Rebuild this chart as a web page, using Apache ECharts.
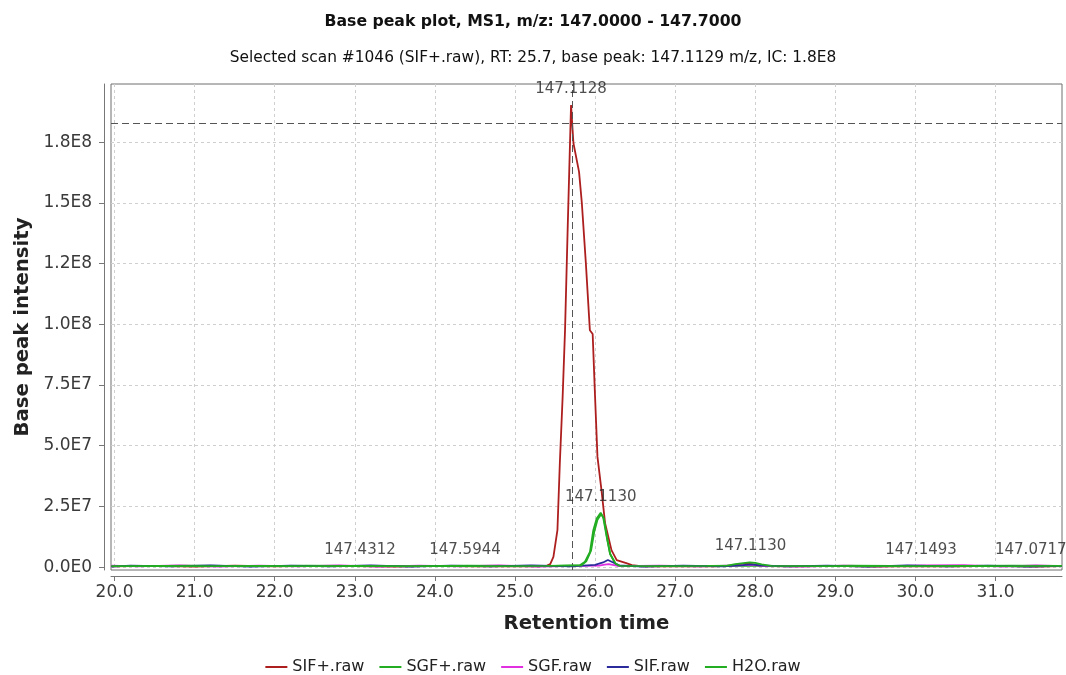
<!DOCTYPE html>
<html>
<head>
<meta charset="utf-8">
<title>Base peak plot</title>
<script src="https://cdn.jsdelivr.net/npm/echarts@6/dist/echarts.min.js"></script>
<style>
  html, body { margin: 0; padding: 0; background: #fff; }
  #chart { width: 1066px; height: 675px; }
</style>
</head>
<body>
<div id="chart"></div>
<script>
// Retention time (min) and base peak intensity for each raw file
const sifPlusRt = [19.96, 20.5, 21.0, 21.5, 22.0, 22.5, 23.0, 23.5, 24.0, 24.5, 25.0, 25.3, 25.40, 25.44, 25.48, 25.53, 25.56, 25.595, 25.625, 25.66, 25.70, 25.73, 25.80, 25.835, 25.885, 25.935, 25.97, 26.0, 26.03, 26.08, 26.125, 26.205, 26.27, 26.39, 26.46, 26.6, 27.0, 27.5, 27.7, 27.8, 27.9, 28.0, 28.1, 28.5, 29.0, 29.5, 30.0, 30.5, 31.0, 31.5, 31.83];
const sifPlusInt = [3e5, 5e5, 2e5, 6e5, 3e5, 5e5, 4e5, 2e5, 5e5, 3e5, 4e5, 3e5, 6e5, 1.2e6, 4.2e6, 1.52e7, 4.28e7, 7.01e7, 9.76e7, 1.42e8, 1.903e8, 1.746e8, 1.628e8, 1.499e8, 1.252e8, 9.76e7, 9.6e7, 7.01e7, 4.54e7, 3.17e7, 1.81e7, 7.0e6, 2.9e6, 1.6e6, 8e5, 3e5, 4e5, 3e5, 6e5, 1.2e6, 1.4e6, 1.0e6, 4e5, 3e5, 5e5, 2e5, 4e5, 3e5, 5e5, 2e5, 4e5];

const sgfPlusRt = [19.96, 20.4, 20.9, 21.4, 21.9, 22.4, 22.9, 23.4, 23.9, 24.4, 24.9, 25.4, 25.81, 25.874, 25.936, 25.978, 26.02, 26.07, 26.10, 26.145, 26.186, 26.25, 26.29, 26.7, 27.2, 27.7, 28.2, 28.7, 29.2, 29.7, 30.2, 30.7, 31.2, 31.83];
const sgfPlusInt = [5e5, 4e5, 6e5, 5e5, 4e5, 6e5, 5e5, 5e5, 4e5, 6e5, 5e5, 4e5, 8e5, 2.2e6, 6.3e6, 1.52e7, 2.0e7, 2.24e7, 2.07e7, 1.25e7, 5.6e6, 1.5e6, 5e5, 5e5, 4e5, 6e5, 5e5, 4e5, 6e5, 5e5, 4e5, 5e5, 6e5, 5e5];

const sgfRt = [19.96, 20.3, 20.8, 21.3, 21.8, 22.3, 22.8, 23.3, 23.8, 24.3, 24.8, 25.3, 25.8, 26.05, 26.12, 26.17, 26.22, 26.3, 26.8, 27.3, 27.8, 27.95, 28.1, 28.6, 29.1, 29.6, 30.1, 30.6, 31.1, 31.5, 31.83];
const sgfInt = [6e5, 3e5, 7e5, 2e5, 6e5, 3e5, 7e5, 2e5, 6e5, 3e5, 7e5, 2e5, 5e5, 6e5, 1.0e6, 1.2e6, 9e5, 4e5, 6e5, 3e5, 7e5, 9e5, 5e5, 2e5, 6e5, 3e5, 7e5, 8e5, 2e5, 7e5, 4e5];

const sifRt = [19.96, 20.2, 20.7, 21.2, 21.7, 22.2, 22.7, 23.2, 23.7, 24.2, 24.7, 25.2, 25.7, 26.0, 26.1, 26.16, 26.22, 26.3, 26.6, 27.1, 27.6, 27.85, 27.95, 28.05, 28.4, 28.9, 29.4, 29.9, 30.4, 30.9, 31.4, 31.83];
const sifInt = [2e5, 6e5, 3e5, 7e5, 2e5, 6e5, 3e5, 7e5, 2e5, 6e5, 3e5, 7e5, 3e5, 9e5, 1.9e6, 2.9e6, 2.0e6, 7e5, 2e5, 6e5, 3e5, 8e5, 1.1e6, 7e5, 3e5, 6e5, 2e5, 7e5, 3e5, 6e5, 2e5, 5e5];

const h2oRt = [19.96, 20.6, 21.2, 21.8, 22.4, 23.0, 23.6, 24.2, 24.8, 25.4, 25.83, 25.89, 25.95, 25.99, 26.03, 26.075, 26.11, 26.15, 26.19, 26.26, 26.31, 26.8, 27.4, 27.65, 27.75, 27.85, 27.93, 28.0, 28.08, 28.2, 28.8, 29.4, 30.0, 30.6, 31.2, 31.83];
const h2oInt = [4e5, 5e5, 4e5, 5e5, 4e5, 5e5, 4e5, 5e5, 4e5, 5e5, 7e5, 2.4e6, 6.8e6, 1.45e7, 1.95e7, 2.18e7, 2.0e7, 1.2e7, 5.2e6, 1.3e6, 5e5, 4e5, 5e5, 6e5, 1.2e6, 1.6e6, 1.9e6, 1.7e6, 1.1e6, 5e5, 4e5, 5e5, 4e5, 5e5, 4e5, 5e5];

// m/z annotations at local maxima
const peakLabelRt = [25.70, 26.07, 27.94, 23.065, 24.376, 30.07, 31.44];
const peakLabelInt = [1.903e8, 2.24e7, 1.9e6, 6e5, 6e5, 6e5, 6e5];
const peakLabelMz = ['147.1128', '147.1130', '147.1130', '147.4312', '147.5944', '147.1493', '147.0717'];

// Selected scan crosshair
const selectedRt = 25.71;
const selectedIc = 1.83e8;

// Axis ticks
const xTicks = [20, 21, 22, 23, 24, 25, 26, 27, 28, 29, 30, 31];
const xTickLabels = ['20.0', '21.0', '22.0', '23.0', '24.0', '25.0', '26.0', '27.0', '28.0', '29.0', '30.0', '31.0'];
const yTicks = [0, 2.5e7, 5.0e7, 7.5e7, 1.0e8, 1.25e8, 1.5e8, 1.75e8];
const yTickLabels = ['0.0E0', '2.5E7', '5.0E7', '7.5E7', '1.0E8', '1.2E8', '1.5E8', '1.8E8'];

const seriesNames = ['SIF+.raw', 'SGF+.raw', 'SGF.raw', 'SIF.raw', 'H2O.raw'];
const seriesColors = ['#ad1f1f', '#22ad22', '#e030e0', '#2b2b9c', '#22ad22'];
const seriesRt = [sifPlusRt, sgfPlusRt, sgfRt, sifRt, h2oRt];
const seriesInt = [sifPlusInt, sgfPlusInt, sgfInt, sifInt, h2oInt];

const FONT = 'DejaVu Sans';

function pairs(xs, ys) {
  return xs.map((x, i) => [x, ys[i]]);
}
function labelFor(ticks, labels) {
  return function (v) {
    for (let i = 0; i < ticks.length; i++) {
      if (Math.abs(ticks[i] - v) < 1e-6 * Math.max(1, Math.abs(v))) return labels[i];
    }
    return '';
  };
}

const lineSeries = seriesNames.map((name, i) => ({
  name: name,
  type: 'line',
  data: pairs(seriesRt[i], seriesInt[i]),
  showSymbol: false,
  symbol: 'none',
  smooth: false,
  animation: false,
  lineStyle: { color: seriesColors[i], width: 1.8 },
  itemStyle: { color: seriesColors[i] },
  z: 3 + i
}));

// Crosshair at the selected scan
lineSeries[0].markLine = {
  silent: true,
  symbol: 'none',
  animation: false,
  label: { show: false },
  lineStyle: { color: '#555555', type: [7, 4], width: 1 },
  data: [{ xAxis: selectedRt }, { yAxis: selectedIc }]
};

const labelSeries = {
  name: 'labels',
  type: 'scatter',
  silent: true,
  animation: false,
  symbolSize: 1,
  itemStyle: { color: 'rgba(0,0,0,0)' },
  z: 10,
  data: peakLabelRt.map((rt, i) => ({ value: [rt, peakLabelInt[i]], name: peakLabelMz[i] })),
  label: {
    show: true,
    position: 'top',
    distance: 8,
    formatter: p => p.name,
    fontFamily: FONT,
    fontSize: 15,
    color: '#222'
  }
};

const chart = echarts.init(document.getElementById('chart'), null, { renderer: 'canvas' });
chart.setOption({
  backgroundColor: '#ffffff',
  animation: false,
  title: [
    {
      text: 'Base peak plot, MS1, m/z: 147.0000 - 147.7000',
      left: 'center',
      top: 9,
      textStyle: { fontFamily: FONT, fontSize: 15.7, fontWeight: 'bold', color: '#111' }
    },
    {
      text: 'Selected scan #1046 (SIF+.raw), RT: 25.7, base peak: 147.1129 m/z, IC: 1.8E8',
      left: 'center',
      top: 45,
      textStyle: { fontFamily: FONT, fontSize: 15.4, fontWeight: 'normal', color: '#111' }
    }
  ],
  legend: {
    data: seriesNames,
    left: 'center',
    top: 654,
    icon: 'rect',
    itemWidth: 22,
    itemHeight: 2,
    itemGap: 15,
    textStyle: { fontFamily: FONT, fontSize: 16, color: '#222' }
  },
  grid: {
    left: 111,
    right: 4,
    top: 84,
    bottom: 105,
    show: true,
    borderColor: '#6f6f6f',
    borderWidth: 1,
    containLabel: false
  },
  xAxis: {
    type: 'value',
    min: 19.956,
    max: 31.83,
    offset: 6,
    name: 'Retention time',
    nameLocation: 'middle',
    nameGap: 38,
    nameTextStyle: { fontFamily: FONT, fontSize: 19.7, fontWeight: 'bold', color: '#222' },
    axisLine: { show: true, onZero: false, lineStyle: { color: '#777777', width: 1 } },
    axisTick: { show: true, length: 5, customValues: xTicks, lineStyle: { color: '#777777' } },
    axisLabel: {
      customValues: xTicks,
      formatter: labelFor(xTicks, xTickLabels),
      margin: 8,
      fontFamily: FONT,
      fontSize: 17,
      color: '#3a3a3a'
    },
    splitLine: { show: true, lineStyle: { color: '#cfcfcf', type: [3, 3], width: 1 } }
  },
  yAxis: {
    type: 'value',
    min: -1.2e6,
    max: 1.99e8,
    offset: 7,
    name: 'Base peak intensity',
    nameLocation: 'middle',
    nameGap: 71,
    nameTextStyle: { fontFamily: FONT, fontSize: 19.7, fontWeight: 'bold', color: '#222' },
    axisLine: { show: true, onZero: false, lineStyle: { color: '#777777', width: 1 } },
    axisTick: { show: true, length: 5, customValues: yTicks, lineStyle: { color: '#777777' } },
    axisLabel: {
      customValues: yTicks,
      formatter: labelFor(yTicks, yTickLabels),
      margin: 12,
      fontFamily: FONT,
      fontSize: 17,
      color: '#3a3a3a'
    },
    splitLine: { show: true, lineStyle: { color: '#cfcfcf', type: [3, 3], width: 1 } }
  },
  series: lineSeries.concat([labelSeries])
});
</script>
</body>
</html>
